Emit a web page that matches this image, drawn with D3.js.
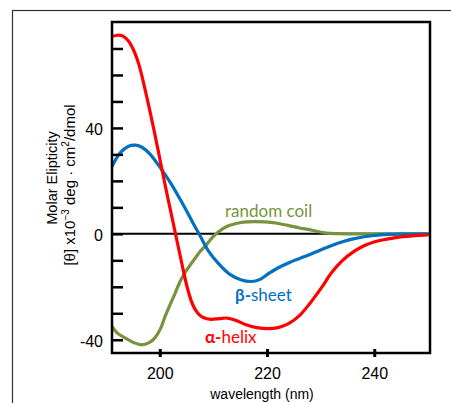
<!DOCTYPE html>
<html>
<head>
<meta charset="utf-8">
<script src="https://cdn.jsdelivr.net/npm/d3@7"></script>
<style>
  body { margin: 0; background: #fff; }
  svg { display: block; }
</style>
</head>
<body>
<script>
// CD spectra of the three secondary structures
const helixWl = [191, 192, 193, 194, 195, 196, 197, 198, 199, 200, 201, 202, 203, 204, 205, 206, 207, 208, 209.5, 211, 212.5, 214, 216, 218, 220, 222, 224, 226, 228, 230, 232, 234, 236, 238, 240, 242, 244, 247, 250];
const helixVal = [74.5, 75, 74.7, 73, 69.5, 64, 56, 47, 37.5, 27.5, 17.5, 8, -1.5, -11, -20, -26.5, -30, -31.6, -32.3, -32, -31.8, -32.6, -34.3, -35.4, -35.8, -35.4, -33.8, -30.8, -26, -20.5, -14.5, -10, -6.8, -4.5, -3, -2.1, -1.4, -0.8, -0.4];

const sheetWl = [191, 192.5, 194, 195.3, 196.5, 198, 200, 202, 204, 206, 207.5, 209, 211, 213, 215, 217, 218.5, 220, 222, 224, 226, 228, 230, 232, 234, 236, 238, 241, 245, 250];
const sheetVal = [25.4, 30.5, 33, 33.5, 32.8, 30.3, 25, 19, 12, 4.5, -1, -6.5, -11.5, -15.3, -17.3, -18, -17.3, -15.3, -12.8, -10.9, -9.3, -7.7, -6, -4.4, -3, -1.9, -1.1, -0.4, -0.1, 0];

const coilWl = [191, 192, 193.4, 195, 196.5, 198, 199, 200, 200.9, 202, 202.8, 203.7, 204.6, 205.5, 206.5, 207.5, 208.4, 209.9, 211, 212.4, 214, 215.5, 217.4, 219.5, 221.8, 224, 226, 228, 229.5, 231, 233, 240, 250];
const coilVal = [-35, -37.5, -39.3, -41, -41.9, -41, -39.3, -36, -31.2, -26, -22.3, -18, -14.7, -12, -9.2, -6.5, -4.6, -1, 1, 2.8, 3.8, 4.4, 4.6, 4.5, 4, 3.1, 2.2, 1.5, 0.8, 0.3, 0.1, 0, 0];

const yTicks = [-40, -30, -20, -10, 0, 10, 20, 30, 40, 50, 60, 70];
const yTickLabels = [-40, 0, 40];
const xTicks = [200, 220, 240];

const width = 451, height = 403;
const plotLeft = 112, plotRight = 430, plotTop = 22, plotBottom = 353;

const svg = d3.select("body")
    .append("svg")
    .attr("width", width)
    .attr("height", height);

// outer frame (runs off the right and bottom edges)
svg.append("rect")
    .attr("x", 12.5).attr("y", 10.5)
    .attr("width", 460).attr("height", 420)
    .attr("fill", "none")
    .attr("stroke", "#333")
    .attr("stroke-width", 1.2);

const x = d3.scaleLinear().domain([191, 250.3]).range([plotLeft, plotRight]);
const y = d3.scaleLinear().domain([-45, 80]).range([plotBottom, plotTop]);

// zero line
svg.append("line")
    .attr("x1", plotLeft).attr("x2", plotRight)
    .attr("y1", y(0)).attr("y2", y(0))
    .attr("stroke", "#000")
    .attr("stroke-width", 2);

const line = d3.line()
    .x(d => x(d[0]))
    .y(d => y(d[1]))
    .curve(d3.curveCatmullRom.alpha(0.5));

const series = [
  {wl: coilWl, val: coilVal, color: "#77933c"},
  {wl: sheetWl, val: sheetVal, color: "#0070c0"},
  {wl: helixWl, val: helixVal, color: "#ff0000"}
];

svg.append("g")
    .selectAll("path")
    .data(series)
    .join("path")
    .attr("d", s => line(d3.zip(s.wl, s.val)))
    .attr("fill", "none")
    .attr("stroke", s => s.color)
    .attr("stroke-width", 3.2)
    .attr("stroke-linejoin", "round");

// y axis ticks (inside)
const yAxis = svg.append("g")
    .attr("transform", `translate(${plotLeft},0)`)
    .call(d3.axisRight(y).tickValues(yTicks).tickSize(11).tickFormat(""));
yAxis.select(".domain").remove();
yAxis.selectAll("line").attr("stroke", "#000").attr("stroke-width", 2.5);

svg.append("g")
    .selectAll("text")
    .data(yTickLabels)
    .join("text")
    .attr("x", plotLeft - 9)
    .attr("y", d => y(d))
    .attr("dy", "0.45em")
    .attr("text-anchor", "end")
    .attr("font-family", "Liberation Sans, Arial, sans-serif")
    .attr("font-size", 16)
    .text(d => d);

// x axis ticks (small stubs)
svg.append("g")
    .selectAll("line")
    .data(xTicks)
    .join("line")
    .attr("x1", d => x(d)).attr("x2", d => x(d))
    .attr("y1", plotBottom - 4).attr("y2", plotBottom + 4)
    .attr("stroke", "#000")
    .attr("stroke-width", 3);

svg.append("g")
    .selectAll("text")
    .data(xTicks)
    .join("text")
    .attr("x", d => x(d))
    .attr("y", 379)
    .attr("text-anchor", "middle")
    .attr("font-family", "Liberation Sans, Arial, sans-serif")
    .attr("font-size", 16)
    .text(d => d);

// plot box
svg.append("rect")
    .attr("x", plotLeft).attr("y", plotTop)
    .attr("width", plotRight - plotLeft).attr("height", plotBottom - plotTop)
    .attr("fill", "none")
    .attr("stroke", "#000")
    .attr("stroke-width", 2.5);

// axis titles
svg.append("text")
    .attr("x", 262).attr("y", 399)
    .attr("text-anchor", "middle")
    .attr("font-family", "Liberation Sans, Arial, sans-serif")
    .attr("font-size", 14)
    .text("wavelength (nm)");

svg.append("text")
    .attr("transform", "translate(57,178) rotate(-90)")
    .attr("text-anchor", "middle")
    .attr("font-family", "Liberation Sans, Arial, sans-serif")
    .attr("font-size", 14.5)
    .text("Molar Elipticity");

const yl2 = svg.append("text")
    .attr("transform", "translate(75,185) rotate(-90)")
    .attr("text-anchor", "middle")
    .attr("font-family", "Liberation Sans, Arial, sans-serif")
    .attr("font-size", 15);
yl2.append("tspan").text("[θ] x10");
yl2.append("tspan").attr("dy", -6).attr("font-size", 10).text("−3");
yl2.append("tspan").attr("dy", 6).text(" deg · cm");
yl2.append("tspan").attr("dy", -6).attr("font-size", 10).text("2");
yl2.append("tspan").attr("dy", 6).text("/dmol");

// curve labels
const labelFont = "Lato, 'Open Sans', sans-serif";
svg.append("text")
    .attr("x", 225).attr("y", 217)
    .attr("font-family", labelFont)
    .attr("font-size", 17)
    .attr("fill", "#77933c")
    .text("random coil");

const sheetLabel = svg.append("text")
    .attr("x", 235).attr("y", 301)
    .attr("font-family", labelFont)
    .attr("font-size", 17)
    .attr("fill", "#0070c0");
sheetLabel.append("tspan").attr("font-weight", "bold").text("β-");
sheetLabel.append("tspan").text("sheet");

const helixLabel = svg.append("text")
    .attr("x", 205).attr("y", 343)
    .attr("font-family", labelFont)
    .attr("font-size", 17)
    .attr("fill", "#ff0000");
helixLabel.append("tspan").attr("font-weight", "bold").text("α-");
helixLabel.append("tspan").text("helix");
</script>
</body>
</html>
